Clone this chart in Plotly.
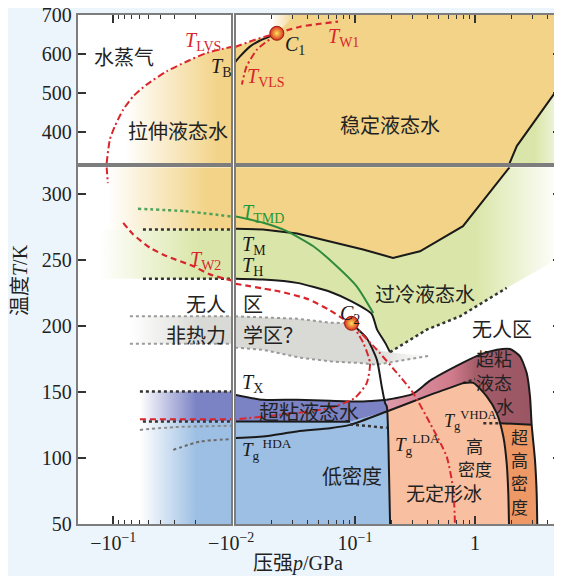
import math
import plotly.graph_objects as go

# ---------------- values ----------------
# pressure in GPa (left panels: |p| of the negative pressure), temperature in K
P_NEG_EDGE = 0.2
P_MIN = 0.01
P_MAX = 5.16
T_LOW, T_SPLIT, T_HIGH = 50, 320, 700

# ---- top-left (negative pressure, 320-700 K)
LVS_NEG_P = [0.1137, 0.1067, 0.0967, 0.0823, 0.0677, 0.0521, 0.0352, 0.0238, 0.0161, 0.0100]
LVS_NEG_T = [320, 381, 415, 457, 491, 521, 555, 580, 602, 617]

# ---- top-right (positive pressure, 320-700 K)
C1 = (0.0223, 652)
LVS_POS_P = [0.0100, 0.0147, 0.0185, 0.0223]
LVS_POS_T = [617, 635.6, 645, 652]
CORNER_P = [0.032, 0.0100]
CORNER_T = [700, 700]
TB_P = [0.0100, 0.0110, 0.0133, 0.0160, 0.0196, 0.0223]
TB_T = [578, 593, 618, 633, 644, 652]
TVLS_P = [0.0223, 0.0205, 0.0178, 0.0152, 0.0125, 0.0114]
TVLS_T = [652, 641, 628, 610, 568, 521]
TW1_P = [0.0223, 0.0348, 0.0511, 0.0722]
TW1_T = [652, 668.7, 676.3, 682]
MELT_HI_P = [1.94, 2.23, 5.16]
MELT_HI_T = [320, 364, 520]

# ---- bottom-right (positive pressure, 50-320 K)
C2 = (0.0935, 202)
TM_P = [0.0100, 0.0171, 0.0329, 0.0619, 0.1167, 0.2074, 0.348, 0.794, 1.848, 1.94]
TM_T = [273.5, 273, 270, 264.1, 257.8, 251.5, 256.5, 275.5, 318.4, 320]
TH_P = [0.0100, 0.0171, 0.0329, 0.0619, 0.0945, 0.1371, 0.1528, 0.178, 0.1957]
TH_T = [235.7, 235.1, 232.6, 225.9, 218.4, 209.3, 197.2, 187.4, 180.2]
TH_EDGE_P = [0.1957, 0.396, 0.75, 1.837]
TH_EDGE_T = [180.2, 197.2, 207.3, 228.8]
GREEN_FADE_T = 252
TMD_P = [0.0100, 0.0172, 0.027, 0.0449, 0.0704, 0.1033, 0.142]
TMD_T = [283, 278, 271.7, 260.3, 245.2, 230, 209.8]
TW2_P = [0.0100, 0.0237, 0.04, 0.06, 0.078, 0.0935]
TW2_T = [232, 226, 220.5, 212.5, 206, 202]
LDA_P = [0.0935, 0.1, 0.125, 0.152, 0.167, 0.178, 0.184, 0.1895, 0.196]
LDA_T = [202, 199.5, 190.9, 174.5, 154.2, 141.7, 139.1, 113.9, 50]
SPIN_L_P = [0.0935, 0.1173, 0.1334, 0.1252, 0.1, 0.0619, 0.0237, 0.0100]
SPIN_L_T = [202, 187.1, 172, 156.8, 145.7, 137.9, 132.8, 129.4]
SPIN_R_P = [0.0935, 0.152, 0.237, 0.304, 0.4217, 0.581, 0.659, 0.681]
SPIN_R_T = [202, 182, 161.8, 149.5, 126.5, 101.2, 76, 50]
TX_P = [0.0100, 0.0171, 0.0327, 0.0619, 0.1167, 0.1837]
TX_T = [148, 144.2, 144.2, 143.4, 142.9, 144.2]
UVL_TOP_P = [0.1837, 0.304, 0.4217, 0.794, 1.10, 1.525, 1.956, 2.371, 2.697, 2.873, 2.968]
UVL_TOP_T = [144.2, 148.7, 158.6, 172.2, 178.3, 182, 182.6, 177, 164.4, 146.7, 125.2]
VHDA_RIGHT_P = [2.968, 3.162, 3.266, 3.304]
VHDA_RIGHT_T = [125.2, 98.7, 73.5, 50]
LBLUE_TOP_P = [0.0100, 0.0619, 0.0909]
LBLUE_TOP_T = [127.7, 127.7, 127.5]
TGHDA_P = [0.0100, 0.0171, 0.0329, 0.0619, 0.0909, 0.1837, 0.4217, 0.794]
TGHDA_T = [115.2, 116.4, 120.2, 122.7, 125.2, 135.3, 147.9, 156.8]
TGHDA_DOT_P = [0.794, 1.0]
TGHDA_DOT_T = [156.8, 159.9]
HDA_EDGE_P = [0.794, 0.968, 1.252, 1.516, 1.722, 1.837, 1.895, 1.92]
HDA_EDGE_T = [156.8, 157, 146.7, 134.1, 116.4, 96.2, 73.5, 50]
TGVHDA_P = [1.6, 2.968]
TGVHDA_T = [126.5, 125.2]
TGVHDA_DOT_P = [1.173, 1.6]
TGVHDA_DOT_T = [126.5, 126.5]
TGLDA_DOT_P = [0.0909, 0.1837]
TGLDA_DOT_T = [125.5, 123.0]
GRAY_TOP_P = [0.0100, 0.0329, 0.0619, 0.0935]
GRAY_TOP_T = [207.3, 205.5, 202.5, 202]
GRAY_RIGHT_P = [0.125, 0.165, 0.30, 0.4217]
GRAY_RIGHT_T = [190, 181, 178, 180]
GRAY_BOT_P = [0.0100, 0.0171, 0.0348, 0.0659, 0.110, 0.152, 0.237, 0.4217]
GRAY_BOT_T = [183.6, 182, 176, 173, 172, 170.7, 173.7, 177.5]

# ---- bottom-left (negative pressure, 50-320 K)
LVS_NEG_LOW_P = [0.1137, 0.111]
LVS_NEG_LOW_T = [320, 308]
TMD_NEG_P = [0.0617, 0.0247, 0.0100]
TMD_NEG_T = [288.6, 286.8, 282.8]
TM_NEG_P = [0.056, 0.0100]
TM_NEG_T = [273, 273]
TH_NEG_P = [0.056, 0.0100]
TH_NEG_T = [235.8, 235.8]
TW2_NEG_P = [0.0823, 0.0677, 0.0488, 0.0352, 0.02097, 0.01514, 0.0100]
TW2_NEG_T = [278, 269.2, 259.1, 252.8, 245.2, 239, 234.5]
BAND_NEG_P = [0.13, 0.0722, 0.0594, 0.056]   # left ends of faded bands
GRAY_NEG_T = [207.3, 186.5]
TX_NEG_T = 150.5
TGL_NEG_T = 127.7
SPIN_NEG_T = 129.4
DOT2_NEG_P = [0.0594, 0.03, 0.0100]
DOT2_NEG_T = [121.4, 123.5, 124.5]
TGHDA_NEG_P = [0.031, 0.0184, 0.0100]
TGHDA_NEG_T = [106.3, 112.6, 114.4]

# tick labels
X_NEG_TICKS = [0.1, 0.01]
X_NEG_TEXT = ['\u221210<sup>\u22121</sup>', '\u221210<sup>\u22122</sup>']
X_POS_TICKS = [0.1, 1]
X_POS_TEXT = ['10<sup>\u22121</sup>', '1']
X_NEG_MINOR = [0.09, 0.08, 0.07, 0.06, 0.05, 0.04, 0.03, 0.02]
X_POS_MINOR = [0.02, 0.03, 0.04, 0.05, 0.06, 0.07, 0.08, 0.09,
               0.2, 0.3, 0.4, 0.5, 0.6, 0.7, 0.8, 0.9, 2, 3, 4, 5]
Y_LOW_TICKS = [50, 100, 150, 200, 250, 300]
Y_HIGH_TICKS = [400, 500, 600, 700]

# ---------------- styling ----------------
YEL = '#F2D387'
GRN = '#DAE6A9'
GRY = '#D9D9D5'
LBL = '#9DBFE3'
DBL = '#7B83C5'
HDA = '#F8BFA0'
VHD = '#EE9866'
RED = '#D8262C'
GLN = '#2E8B3C'
BLK = '#1a1a1a'
AXC = '#7d7d7d'
W = 'rgba(255,255,255,1)'
W0 = 'rgba(255,255,255,0)'
DASHDOT = '7px,3px,2px,3px'
DASH = '6px,4px'
SERIF = 'Liberation Serif'
CJK = 'Noto Sans CJK SC'

# page body has an 8px margin: the figure is placed at (8, 8)
OFF = 8
FIG_W, FIG_H = 554, 568


def fx(px):
    return (px - OFF) / FIG_W


def fy(py):
    return 1 - (py - OFF) / FIG_H


AX = {'BL': ('x', 'y'), 'BR': ('x2', 'y2'), 'TL': ('x3', 'y3'), 'TR': ('x4', 'y4')}
traces = []


def fill(ax, xs, ys, color=None, grad=None):
    d = dict(x=xs, y=ys, xaxis=AX[ax][0], yaxis=AX[ax][1], mode='none',
             fill='toself', hoverinfo='skip', showlegend=False)
    if grad:
        d['fillgradient'] = dict(type='horizontal', colorscale=grad)
    else:
        d['fillcolor'] = color
    traces.append(go.Scatter(**d))


def line(ax, xs, ys, color=BLK, width=2, dash='solid', smooth=False):
    ln = dict(color=color, width=width, dash=dash)
    if smooth:
        ln.update(shape='spline', smoothing=0.6)
    traces.append(go.Scatter(x=xs, y=ys, xaxis=AX[ax][0], yaxis=AX[ax][1], mode='lines',
                             line=ln, hoverinfo='skip', showlegend=False))


def point(ax, pt):
    traces.append(go.Scatter(x=[pt[0]], y=[pt[1]], xaxis=AX[ax][0], yaxis=AX[ax][1],
                             mode='markers', hoverinfo='skip', showlegend=False,
                             marker=dict(size=14, color='#D7301F',
                                         gradient=dict(type='radial', color='#FFE259'),
                                         line=dict(color='#9E1B0F', width=1))))


# ---- top-left
fill('TL', LVS_NEG_P + [P_MIN], LVS_NEG_T + [T_SPLIT],
     grad=[[0, W], [0.15, W], [0.9, YEL], [1, YEL]])
line('TL', LVS_NEG_P, LVS_NEG_T, RED, 2, DASHDOT, smooth=True)

# ---- top-right
fill('TR', [P_MIN, P_MAX, P_MAX, P_MIN], [T_SPLIT, T_SPLIT, T_HIGH, T_HIGH], YEL)
fill('TR', MELT_HI_P + [P_MAX], MELT_HI_T + [T_SPLIT],
     grad=[[0, GRN], [0.5, GRN], [1, '#F3F6E4']])
fill('TR', LVS_POS_P + CORNER_P, LVS_POS_T + CORNER_T,
     grad=[[0, W], [0.6, W], [1, W0]])
line('TR', MELT_HI_P, MELT_HI_T)
line('TR', TB_P, TB_T, smooth=True)
line('TR', LVS_POS_P, LVS_POS_T, RED, 2, DASHDOT, smooth=True)
line('TR', TVLS_P, TVLS_T, RED, 2, DASHDOT, smooth=True)
line('TR', TW1_P, TW1_T, RED, 2.2, DASH, smooth=True)
point('TR', C1)

# ---- bottom-right fills
fill('BR', TH_P + TH_EDGE_P[1:] + [P_MAX, P_MAX, P_MIN],
     TH_T + TH_EDGE_T[1:] + [GREEN_FADE_T, T_SPLIT, T_SPLIT],
     grad=[[0, GRN], [0.74, GRN], [1, W]])
fill('BR', TM_P + [P_MIN], TM_T + [T_SPLIT], YEL)
fill('BR', GRAY_TOP_P + GRAY_RIGHT_P + GRAY_BOT_P[::-1],
     GRAY_TOP_T + GRAY_RIGHT_T + GRAY_BOT_T[::-1],
     grad=[[0, GRY], [0.7, GRY], [1, W]])
fill('BR', LBLUE_TOP_P + [TGHDA_P[5]] + LDA_P[-2:] + [P_MIN],
     LBLUE_TOP_T + [TGHDA_T[5]] + LDA_T[-2:] + [T_LOW], LBL)
fill('BR', TX_P + [TGHDA_P[5]] + LBLUE_TOP_P[::-1],
     TX_T + [TGHDA_T[5]] + LBLUE_TOP_T[::-1], DBL)
fill('BR', UVL_TOP_P + [TGVHDA_P[0]] + HDA_EDGE_P[3::-1] + TGHDA_P[6:4:-1],
     UVL_TOP_T + [TGVHDA_T[0]] + HDA_EDGE_T[3::-1] + TGHDA_T[6:4:-1],
     grad=[[0, '#DE9AA8'], [0.45, '#D07B8C'], [0.62, '#A35C69'], [1, '#9B5663']])
fill('BR', TGHDA_P[5:] + HDA_EDGE_P[1:] + [LDA_P[-1], LDA_P[-2]],
     TGHDA_T[5:] + HDA_EDGE_T[1:] + [LDA_T[-1], LDA_T[-2]], HDA)
fill('BR', TGVHDA_P + VHDA_RIGHT_P[1:] + HDA_EDGE_P[:3:-1],
     TGVHDA_T + VHDA_RIGHT_T[1:] + HDA_EDGE_T[:3:-1], VHD)

# ---- bottom-right lines
line('BR', GRAY_TOP_P, GRAY_TOP_T, '#9a9a9a', 2, 'dot')
line('BR', GRAY_BOT_P, GRAY_BOT_T, '#9a9a9a', 2, 'dot')
line('BR', TM_P, TM_T)
line('BR', TH_P, TH_T, smooth=True)
line('BR', TH_EDGE_P, TH_EDGE_T, '#333333', 2.5, 'dot')
line('BR', TMD_P, TMD_T, GLN, 2, smooth=True)
line('BR', LDA_P, LDA_T, smooth=True)
line('BR', TX_P, TX_T, smooth=True)
line('BR', UVL_TOP_P + VHDA_RIGHT_P[1:], UVL_TOP_T + VHDA_RIGHT_T[1:], smooth=True)
line('BR', LBLUE_TOP_P, LBLUE_TOP_T)
line('BR', TGHDA_P, TGHDA_T, smooth=True)
line('BR', TGHDA_DOT_P, TGHDA_DOT_T, '#333333', 2.5, 'dot')
line('BR', HDA_EDGE_P, HDA_EDGE_T, smooth=True)
line('BR', TGVHDA_P, TGVHDA_T)
line('BR', TGVHDA_DOT_P, TGVHDA_DOT_T, '#333333', 2.5, 'dot')
line('BR', TGLDA_DOT_P, TGLDA_DOT_T, '#333333', 2.5, 'dot')
line('BR', TW2_P, TW2_T, RED, 2.2, DASH, smooth=True)
line('BR', SPIN_L_P, SPIN_L_T, RED, 2, DASHDOT, smooth=True)
line('BR', SPIN_R_P, SPIN_R_T, RED, 2, DASHDOT, smooth=True)
point('BR', C2)

# ---- bottom-left fills (bands fading in from the left)
fill('BL', [BAND_NEG_P[0], P_MIN, P_MIN, BAND_NEG_P[0]], [T_SPLIT, T_SPLIT, TM_NEG_T[0], TM_NEG_T[0]],
     grad=[[0, W], [0.06, W], [0.82, YEL], [1, YEL]])
fill('BL', [BAND_NEG_P[0], P_MIN, P_MIN, BAND_NEG_P[0]], [TM_NEG_T[0], TM_NEG_T[0], TH_NEG_T[0], TH_NEG_T[0]],
     grad=[[0, W], [0.75, GRN], [1, GRN]])
fill('BL', [BAND_NEG_P[1], P_MIN, P_MIN, BAND_NEG_P[1]], [GRAY_NEG_T[0], GRAY_NEG_T[0], GRAY_NEG_T[1], GRAY_NEG_T[1]],
     grad=[[0, W], [0.7, GRY], [1, GRY]])
fill('BL', [BAND_NEG_P[2], P_MIN, P_MIN, BAND_NEG_P[2]], [TX_NEG_T, TX_NEG_T, TGL_NEG_T, TGL_NEG_T],
     grad=[[0, W], [0.62, DBL], [1, DBL]])
fill('BL', [BAND_NEG_P[2], P_MIN, P_MIN, BAND_NEG_P[2]], [TGL_NEG_T, TGL_NEG_T, T_LOW, T_LOW],
     grad=[[0, W], [0.62, LBL], [1, LBL]])

# ---- bottom-left lines
line('BL', LVS_NEG_LOW_P, LVS_NEG_LOW_T, RED, 2, DASHDOT)
line('BL', TMD_NEG_P, TMD_NEG_T, '#4FA35B', 2.5, 'dot', smooth=True)
line('BL', TM_NEG_P, TM_NEG_T, '#333333', 2.5, 'dot')
line('BL', TH_NEG_P, TH_NEG_T, '#333333', 2.5, 'dot')
line('BL', TW2_NEG_P, TW2_NEG_T, RED, 2.2, DASH, smooth=True)
line('BL', [BAND_NEG_P[1], P_MIN], [GRAY_NEG_T[0]] * 2, '#9a9a9a', 2, 'dot')
line('BL', [BAND_NEG_P[1], P_MIN], [GRAY_NEG_T[1]] * 2, '#9a9a9a', 2, 'dot')
line('BL', [BAND_NEG_P[2], P_MIN], [TX_NEG_T] * 2, '#333333', 2.5, 'dot')
line('BL', [BAND_NEG_P[3], P_MIN], [TGL_NEG_T] * 2, '#333333', 2.5, 'dot')
line('BL', [BAND_NEG_P[2], P_MIN], [SPIN_NEG_T] * 2, RED, 2, DASH)
line('BL', DOT2_NEG_P, DOT2_NEG_T, '#8a8a8a', 2, 'dot', smooth=True)
line('BL', TGHDA_NEG_P, TGHDA_NEG_T, '#6a6a6a', 2, 'dot', smooth=True)

# ---------------- labels ----------------
def M(s, sub='', sup=''):
    return '<i>%s</i>' % s + ('<sub>%s</sub>' % sub if sub else '') + ('<sup>%s</sup>' % sup if sup else '')


LABELS = [
    # (panel, text, p, T, colour, font, size, xanchor)
    ('TL', '水蒸气', 0.0811, 592, '#222', CJK, 20, 'center'),
    ('TL', '拉伸液态水', 0.0283, 404, '#222', CJK, 20, 'center'),
    ('TL', M('T', 'LVS'), 0.01728, 630.5, RED, SERIF, 20, 'center'),
    ('TL', M('T', 'B'), 0.0122, 564, BLK, SERIF, 20, 'center'),
    ('TR', M('C', '1'), 0.0316, 620, BLK, SERIF, 20, 'center'),
    ('TR', M('T', 'VLS'), 0.01795, 540, RED, SERIF, 20, 'center'),
    ('TR', M('T', 'W1'), 0.0802, 642, RED, SERIF, 20, 'center'),
    ('TR', '稳定液态水', 0.194, 419, '#222', CJK, 20, 'center'),
    ('BL', M('T', 'W2'), 0.01642, 249.5, RED, SERIF, 20, 'center'),
    ('BL', '无人', 0.0106, 216.9, '#222', CJK, 20, 'right'),
    ('BL', '非热力', 0.0106, 193.4, '#222', CJK, 20, 'right'),
    ('BR', '区', 0.0112, 216.9, '#222', CJK, 20, 'left'),
    ('BR', '学区？', 0.0112, 193.4, '#222', CJK, 20, 'left'),
    ('BR', M('T', 'TMD'), 0.0110, 285.1, '#1F9A3A', SERIF, 20, 'left'),
    ('BR', M('T', 'M'), 0.0110, 260.8, BLK, SERIF, 20, 'left'),
    ('BR', M('T', 'H'), 0.0110, 244.9, BLK, SERIF, 20, 'left'),
    ('BR', M('C', '2'), 0.0909, 209, BLK, SERIF, 20, 'center'),
    ('BR', '过冷液态水', 0.383, 224.5, '#222', CJK, 20, 'center'),
    ('BR', '无人区', 1.695, 198, '#222', CJK, 20, 'center'),
    ('BR', M('T', 'X'), 0.0110, 156.8, BLK, SERIF, 20, 'left'),
    ('BR', '超粘液态水', 0.0410, 135.5, '#222', CJK, 20, 'center'),
    ('BR', M('T', 'g', ' HDA'), 0.0110, 106.3, BLK, SERIF, 19, 'left'),
    ('BR', '低密度', 0.0944, 86.6, '#222', CJK, 20, 'center'),
    ('BR', M('T', 'g', 'LDA'), 0.2074, 110, BLK, SERIF, 19, 'left'),
    ('BR', '高', 0.981, 109.3, '#222', CJK, 17, 'center'),
    ('BR', '密度', 1.0, 92.0, '#222', CJK, 17, 'center'),
    ('BR', '无定形冰', 0.5516, 73.8, '#222', CJK, 19, 'center'),
    ('BR', M('T', 'g', 'VHDA'), 0.530, 128.5, BLK, SERIF, 18, 'left'),
    ('BR', '超粘', 1.44, 175.8, '#222', CJK, 18, 'center'),
    ('BR', '液态', 1.44, 157.6, '#222', CJK, 18, 'center'),
    ('BR', '水', 1.78, 139.8, '#222', CJK, 18, 'center'),
    ('BR', '超', 2.327, 116.2, '#222', CJK, 17, 'center'),
    ('BR', '高', 2.327, 98.7, '#222', CJK, 17, 'center'),
    ('BR', '密', 2.327, 81.3, '#222', CJK, 17, 'center'),
    ('BR', '度', 2.327, 63.8, '#222', CJK, 17, 'center'),
]

annotations = []
for ax, text, p, T, col, fam, size, xa in LABELS:
    annotations.append(dict(text=text, x=math.log10(p), y=T, xref=AX[ax][0], yref=AX[ax][1],
                            showarrow=False, xanchor=xa, yanchor='middle',
                            font=dict(family=fam, size=size, color=col)))

annotations.append(dict(text='温度<i>T</i>/K', x=fx(20), y=fy(280), xref='paper', yref='paper',
                        xanchor='center', yanchor='middle',
                        showarrow=False, textangle=-90, font=dict(family=SERIF + ', ' + CJK, size=20, color='#222')))
annotations.append(dict(text='压强<i>p</i>/GPa', x=fx(298), y=fy(563), xref='paper', yref='paper',
                        xanchor='center', yanchor='middle',
                        showarrow=False, font=dict(family=SERIF + ', ' + CJK, size=20, color='#222')))

# ---------------- axes ----------------
XL_DOM = [fx(77.7), fx(231.2)]
XR_DOM = [fx(236), fx(560.5)]
YT_DOM = [fy(163.3), fy(14.5)]
YB_DOM = [fy(524.3), fy(167.3)]
XL_RANGE = [math.log10(P_NEG_EDGE), math.log10(P_MIN)]
XR_RANGE = [-1.992, math.log10(P_MAX)]
TICKFONT = dict(family=SERIF, size=20, color='#222')


def xaxis(dom, rng, anchor, side, vals, text, minor_vals, labels):
    return dict(domain=dom, range=rng, type='log', anchor=anchor, side=side,
                showline=True, linecolor=AXC, linewidth=2, mirror=True,
                ticks='inside', ticklen=8, tickwidth=1.5, tickcolor='#333',
                tickmode='array', tickvals=vals, ticktext=text, showticklabels=labels,
                tickfont=TICKFONT, ticklabeloverflow='allow',
                showgrid=False, zeroline=False, fixedrange=True, automargin=False,
                minor=dict(tickmode='array', tickvals=minor_vals, ticks='inside',
                           ticklen=4, tickwidth=1.2, tickcolor='#333', showgrid=False))


def yaxis(dom, rng, anchor, side, vals, labels):
    return dict(domain=dom, range=rng, anchor=anchor, side=side,
                showline=True, linecolor=AXC, linewidth=2, mirror=True,
                ticks='inside', ticklen=8, tickwidth=1.5, tickcolor='#333',
                tickmode='array', tickvals=vals, showticklabels=labels,
                tickfont=TICKFONT, ticklabeloverflow='allow',
                showgrid=False, zeroline=False, fixedrange=True, automargin=False)


fig = go.Figure(data=traces)
fig.update_layout(
    template='none',
    width=FIG_W, height=FIG_H,
    margin=dict(l=0, r=0, t=0, b=0, pad=0),
    paper_bgcolor='#EDF5FC', plot_bgcolor='white',
    font=dict(family=SERIF + ', ' + CJK, size=20, color='#222'),
    showlegend=False,
    xaxis=xaxis(XL_DOM, XL_RANGE, 'y', 'bottom', X_NEG_TICKS, X_NEG_TEXT, X_NEG_MINOR, True),
    xaxis2=xaxis(XR_DOM, XR_RANGE, 'y2', 'bottom', X_POS_TICKS, X_POS_TEXT, X_POS_MINOR, True),
    xaxis3=xaxis(XL_DOM, XL_RANGE, 'y3', 'top', X_NEG_TICKS, X_NEG_TEXT, X_NEG_MINOR, False),
    xaxis4=xaxis(XR_DOM, XR_RANGE, 'y4', 'top', X_POS_TICKS, X_POS_TEXT, X_POS_MINOR, False),
    yaxis=yaxis(YB_DOM, [T_LOW, T_SPLIT], 'x', 'left', Y_LOW_TICKS, True),
    yaxis2=yaxis(YB_DOM, [T_LOW, T_SPLIT], 'x2', 'right', Y_LOW_TICKS, False),
    yaxis3=yaxis(YT_DOM, [T_SPLIT, T_HIGH], 'x3', 'left', Y_HIGH_TICKS, True),
    yaxis4=yaxis(YT_DOM, [T_SPLIT, T_HIGH], 'x4', 'right', Y_HIGH_TICKS, False),
    annotations=annotations,
    shapes=[dict(type='rect', xref='paper', yref='paper', layer='below',
                 x0=XL_DOM[0], x1=XR_DOM[1], y0=YB_DOM[0], y1=YT_DOM[1],
                 fillcolor='white', line=dict(width=0))],
)

fig.write_html('out.html')
